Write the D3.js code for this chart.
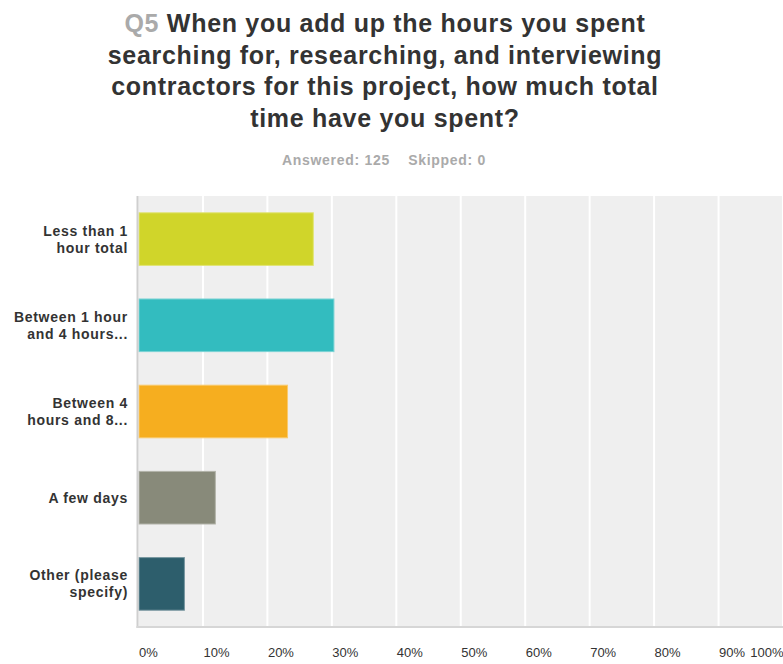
<!DOCTYPE html>
<html>
<head>
<meta charset="utf-8">
<script src="https://cdn.jsdelivr.net/npm/d3@7"></script>
<style>
  html, body { margin: 0; padding: 0; background: #fff; }
  svg { display: block; font-family: "Liberation Sans", Arial, sans-serif; }
</style>
</head>
<body>
<svg id="chart" width="783" height="664"></svg>
<script>
// Survey question and response counts
const questionNumber = "Q5";
const titleLines = [
  "When you add up the hours you spent",
  "searching for, researching, and interviewing",
  "contractors for this project, how much total",
  "time have you spent?"
];
const answered = 125;
const skipped = 0;

const categories = [
  ["Less than 1", "hour total"],
  ["Between 1 hour", "and 4 hours..."],
  ["Between 4", "hours and 8..."],
  ["A few days"],
  ["Other (please", "specify)"]
];
const shares = [0.272, 0.304, 0.232, 0.12, 0.072];
const barColors = ["#d0d52a", "#33bcbf", "#f6ae1f", "#888a7a", "#2d5e6c"];
const tickValues = [0, 0.1, 0.2, 0.3, 0.4, 0.5, 0.6, 0.7, 0.8, 0.9, 1.0];

const svg = d3.select("#chart");
const plot = { left: 138.5, right: 783, top: 196, bottom: 627 };

// Title, with the question number in grey
const title = svg.append("text")
  .attr("text-anchor", "middle")
  .attr("font-size", 25)
  .attr("font-weight", "bold")
  .attr("letter-spacing", 0.7)
  .attr("fill", "#333");
titleLines.forEach((line, i) => {
  const t = title.append("tspan").attr("x", 385).attr("y", 32 + i * 31.5);
  if (i === 0) {
    t.append("tspan").attr("fill", "#aaa").text(questionNumber + " ");
  }
  t.append("tspan").text(line);
});

svg.append("text")
  .attr("x", 384).attr("y", 165)
  .attr("text-anchor", "middle")
  .attr("font-size", 14)
  .attr("font-weight", "bold")
  .attr("letter-spacing", 0.7)
  .attr("fill", "#aaa")
  .attr("xml:space", "preserve")
  .text(`Answered: ${answered}    Skipped: ${skipped}`);

const x = d3.scaleLinear().domain([0, 1]).range([plot.left, plot.right]);
const y = d3.scaleBand()
  .domain(d3.range(categories.length))
  .range([plot.top, plot.bottom])
  .paddingInner(0.378)
  .paddingOuter(0.189);

// Plot background
svg.append("rect")
  .attr("x", plot.left).attr("y", plot.top)
  .attr("width", plot.right - plot.left).attr("height", plot.bottom - plot.top)
  .attr("fill", "#efefef");

// Vertical gridlines
svg.append("g")
  .selectAll("line")
  .data(tickValues.slice(1))
  .join("line")
  .attr("x1", d => x(d)).attr("x2", d => x(d))
  .attr("y1", plot.top).attr("y2", plot.bottom)
  .attr("stroke", "#fff")
  .attr("stroke-width", 2);

// Bars
svg.append("g")
  .selectAll("rect")
  .data(shares)
  .join("rect")
  .attr("x", x(0) + 0.5)
  .attr("y", (d, i) => y(i) + 0.5)
  .attr("width", d => x(d) - x(0) - 1)
  .attr("height", y.bandwidth() - 1)
  .attr("fill", (d, i) => barColors[i])
  .attr("stroke", (d, i) => d3.interpolateRgb(barColors[i], "#fff")(0.35))
  .attr("stroke-width", 1);

// Axis lines
svg.append("line")
  .attr("x1", plot.left - 1).attr("x2", plot.left - 1)
  .attr("y1", plot.top).attr("y2", plot.bottom + 1)
  .attr("stroke", "#cfcfcf").attr("stroke-width", 2);
svg.append("line")
  .attr("x1", plot.left - 2).attr("x2", plot.right)
  .attr("y1", plot.bottom).attr("y2", plot.bottom)
  .attr("stroke", "#d6d6d6").attr("stroke-width", 2);

// Category labels
const catG = svg.append("g")
  .attr("font-size", 14)
  .attr("font-weight", "bold")
  .attr("letter-spacing", 0.7)
  .attr("fill", "#333")
  .attr("text-anchor", "end");
categories.forEach((lines, i) => {
  const cy = y(i) + y.bandwidth() / 2;
  const lh = 17;
  const t = catG.append("text");
  lines.forEach((ln, j) => {
    t.append("tspan")
      .attr("x", 128)
      .attr("y", cy + 5 + (j - (lines.length - 1) / 2) * lh)
      .text(ln);
  });
});

// Percentage tick labels
const xAxis = d3.axisBottom(x)
  .tickValues(tickValues)
  .tickFormat(d3.format(".0%"))
  .tickSize(0)
  .tickPadding(0);
const axisG = svg.append("g")
  .attr("transform", `translate(0, ${plot.bottom})`)
  .call(xAxis);
axisG.select(".domain").remove();
axisG.selectAll("text")
  .attr("font-family", "Liberation Sans, Arial, sans-serif")
  .attr("font-size", 13)
  .attr("fill", "#333")
  .attr("dy", 0)
  .attr("y", 30)
  .attr("text-anchor", (d, i) => i === tickValues.length - 1 ? "end" : "start");
</script>
</body>
</html>
